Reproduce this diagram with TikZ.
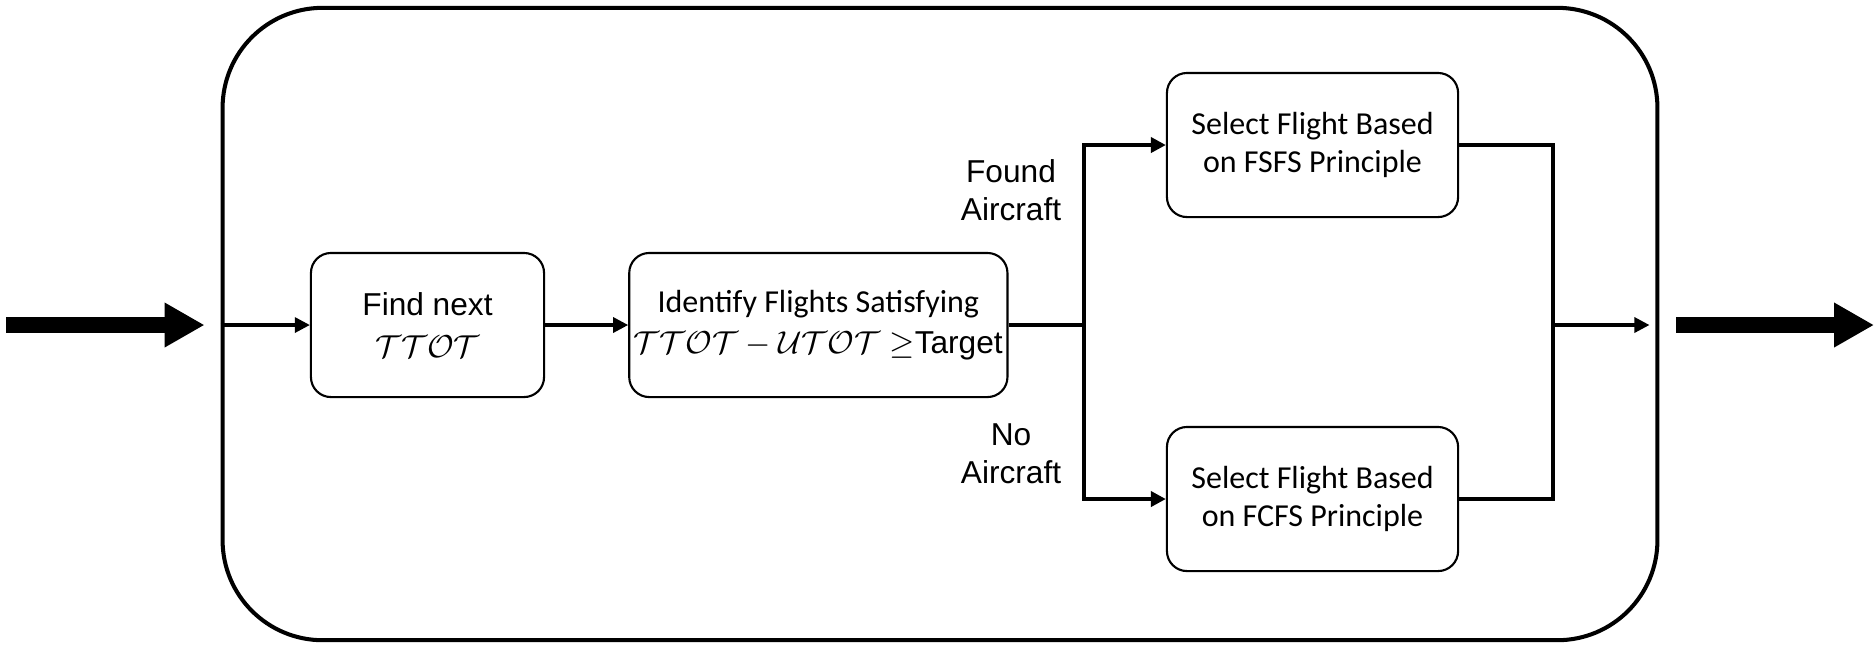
\documentclass[tikz,border=0pt]{standalone}
\usepackage{fontspec}
\setmainfont{Liberation Sans}
\newfontfamily\calibrifont{Carlito}
\usetikzlibrary{arrows.meta,positioning}
\newcommand{\TTOT}{\mathcal{TTOT}}
\newcommand{\UTOT}{\mathcal{UTOT}}

\begin{document}
\begin{tikzpicture}[x=0.01cm, y=-0.01cm, font=\fontsize{9}{10.8}\selectfont,
  frame/.style={rectangle, rounded corners=1cm, draw, line width=1.15pt, minimum width=14.34cm, minimum height=6.32cm, inner sep=0pt},
  box/.style={rectangle, rounded corners=0.2cm, draw, line width=0.6pt, align=center, inner sep=1pt, minimum height=1.44cm},
  selbox/.style={box, minimum width=2.91cm, font=\calibrifont\fontsize{9.1}{10.9}\selectfont},
  lab/.style={align=center, inner sep=0pt},
  big/.style={-{Triangle[length=4mm,width=4.2mm]}, line width=4.3pt},
  arr/.style={-{Triangle[length=1.5mm,width=1.5mm]}, line width=0.9pt},
  wire/.style={line width=1.15pt}]
\useasboundingbox (0,0) rectangle (1874,644);
\node[frame] (frame) at (940,324) {};
\node[box, minimum width=2.33cm] (find) at (427.5,325) {Find next\\[1pt] \fontsize{9.5}{11}\selectfont$\TTOT$};
\node[box, minimum width=3.78cm, right=0.83cm of find] (ident) {{\calibrifont\fontsize{9.1}{10}\selectfont Identify Flights Satisfying}\\[1pt] $\TTOT-\UTOT\geq$Target};
\node[selbox] (fsfs) at (1312.5,145) {Select Flight Based\\ on FSFS Principle};
\node[selbox] (fcfs) at (1312.5,499) {Select Flight Based\\ on FCFS Principle};
\node[lab] (found) at (1011,190) {Found\\Aircraft};
\node[lab] (none) at (1011,454) {No\\Aircraft};
\coordinate (src) at (6,325);
\coordinate (dst) at (1874,325);
\coordinate (split) at (1084,325);
\coordinate (merge) at (1553,325);
% in and out of the frame
\draw[big] (src) -- ([xshift=-0.16cm]frame.west |- src);
\draw[big] ([xshift=0.17cm]frame.east |- dst) -- (dst);
\draw[arr] (frame.west |- find) -- (find);
\draw[arr] (find) -- (ident);
% branches
\draw[wire] (ident) -- (split);
\draw[arr, wire] (split) |- (fsfs);
\draw[arr, wire] (split) |- (fcfs);
\draw[wire] (fsfs) -| (merge);
\draw[wire] (fcfs) -| (merge);
\draw[arr, shorten >=0.1cm] (merge) -- (frame.east |- merge);
\end{tikzpicture}
\end{document}
